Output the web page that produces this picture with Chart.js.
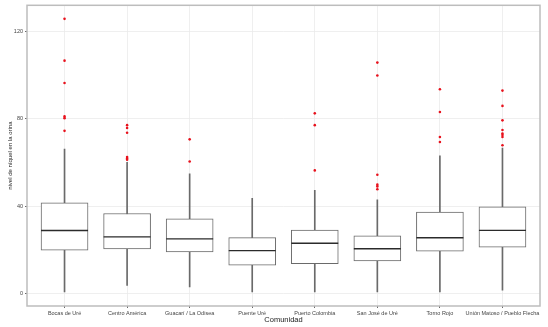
<!DOCTYPE html>
<html><head><meta charset="utf-8">
<script src="https://cdn.jsdelivr.net/npm/chart.js@4"></script>
<style>html,body{margin:0;padding:0;background:#fff}#wrap{width:548px;height:327px}</style>
</head><body><div id="wrap"><canvas id="c" width="548" height="327"></canvas></div>
<script>
const categories = ["Bocas de Uré","Centro América","Guacarí / La Odisea","Puente Uré","Puerto Colombia","San José de Uré","Torno Rojo","Unión Matoso / Pueblo Flecha"];
const whiskerLow  = [0.7, 3.7, 3.0, 0.7, 0.7, 0.7, 0.7, 1.5];
const q1          = [19.8, 20.4, 19.0, 13.0, 13.6, 14.9, 19.4, 21.2];
const median      = [28.8, 25.9, 25.0, 19.6, 23.0, 20.5, 25.5, 28.9];
const q3          = [41.5, 36.6, 34.2, 25.6, 29.0, 26.4, 37.3, 39.6];
const whiskerHigh = [66.0, 60.0, 54.7, 43.5, 47.2, 42.8, 63.0, 66.5];
const outliers = [
  [125.6, 106.5, 96.3, 81.0, 80.2, 74.4],
  [77.0, 75.7, 73.5, 62.4, 61.8, 61.2],
  [70.5, 60.4],
  [],
  [82.4, 77.0, 56.3],
  [105.6, 99.7, 54.3, 49.8, 49.0, 47.7],
  [93.4, 83.0, 71.6, 69.3],
  [92.8, 85.8, 79.2, 74.8, 73.2, 72.5, 71.6, 67.8]
];
const yTicks = [0, 40, 80, 120];

const whiskerData = categories.map((c,i)=>({x:i+1, y:[whiskerLow[i], whiskerHigh[i]]}));
const boxData = categories.map((c,i)=>({x:i+1, y:[q1[i], q3[i]]}));
const medianData = categories.map((c,i)=>({x:i+1, y:median[i]}));
const outlierData = [];
outliers.forEach((arr,i)=>arr.forEach(v=>outlierData.push({x:i+1, y:v})));

const borderPlugin = {
  id:'panelBorder',
  afterDraw(chart){
    const a = chart.chartArea, ctx = chart.ctx;
    ctx.save();
    ctx.strokeStyle = '#bdbdbd';
    ctx.lineWidth = 1.5;
    ctx.strokeRect(a.left, a.top, a.right-a.left, a.bottom-a.top);
    ctx.restore();
  }
};

new Chart(document.getElementById('c'), {
  type: 'bar',
  data: {
    datasets: [
      {type:'bar', data: whiskerData, grouped:false, barThickness:1, backgroundColor:'#6a6a6a', borderWidth:0, order:3},
      {type:'bar', data: boxData, grouped:false, barThickness:47, backgroundColor:'#ffffff', borderColor:'#6a6a6a', borderWidth:1, borderSkipped:false, order:2},
      {type:'line', data: medianData, showLine:false, pointStyle:'line', pointRadius:23.5, pointHoverRadius:23.5, pointBorderWidth:1.4, pointBorderColor:'#2b2b2b', order:1},
      {type:'line', data: outlierData, showLine:false, pointStyle:'circle', pointRadius:1.3, pointBackgroundColor:'#e8111c', pointBorderWidth:0, order:0}
    ]
  },
  options: {
    responsive:false, animation:false,
    layout:{autoPadding:false, padding:{top:1, right:8, left:0, bottom:0}},
    plugins:{legend:{display:false}, tooltip:{enabled:false}},
    scales:{
      x:{
        type:'linear', min:0.4, max:8.6, offset:false,
        afterBuildTicks:(s)=>{ s.ticks = categories.map((c,i)=>({value:i+1})); },
        afterFit:(s)=>{ s.height = 21; },
        ticks:{ autoSkip:false, maxRotation:0, padding:2.5, color:'#444', font:{family:'Liberation Sans', size:5.5},
          callback:(v)=>categories[v-1] },
        grid:{ offset:false, color:'#ebebeb', lineWidth:0.8, tickLength:2, tickColor:'#444' },
        border:{display:false},
        title:{ display:true, text:'Comunidad', color:'#222', padding:{top:0,bottom:3}, font:{family:'Liberation Sans', size:7.5} }
      },
      y:{
        min:-5.7, max:131.8,
        afterBuildTicks:(s)=>{ s.ticks = yTicks.map(v=>({value:v})); },
        afterFit:(s)=>{ s.width = 27; },
        ticks:{ padding:2, color:'#444', font:{family:'Liberation Sans', size:5.5} },
        grid:{ color:'#ebebeb', lineWidth:0.8, tickLength:2, tickColor:'#444' },
        border:{display:false},
        title:{ display:true, text:'nivel de níquel en la orina', color:'#222', padding:{top:6.5,bottom:0}, font:{family:'Liberation Sans', size:6} }
      }
    }
  },
  plugins:[borderPlugin]
});
</script></body></html>
